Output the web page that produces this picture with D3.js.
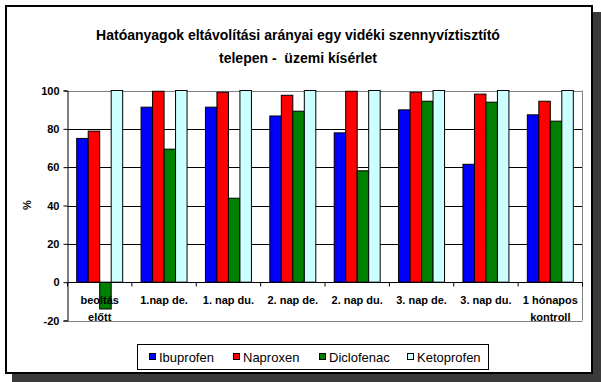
<!DOCTYPE html>
<html>
<head>
<meta charset="utf-8">
<script src="https://cdn.jsdelivr.net/npm/d3@7"></script>
<style>
    body { margin: 0; background: #fff; }
    svg { display: block; font-family: Arial, "Liberation Sans", sans-serif; }
</style>
</head>
<body>
<svg id="chart" width="601" height="382"></svg>
<script>
// categories (multi-line labels) and series
const categories = ['beoltás\nelőtt', '1.nap de.', '1. nap du.', '2. nap de.', '2. nap du.', '3. nap de.', '3. nap du.', '1 hónapos\nkontroll'];
const seriesNames = ['Ibuprofen', 'Naproxen', 'Diclofenac', 'Ketoprofen'];
const seriesColors = ['#0000ff', '#ff0000', '#008000', '#ccffff'];
const ibuprofen = [75, 91.3, 91.3, 86.7, 77.9, 89.9, 61.5, 87.3];
const naproxen = [78.8, 99.6, 99.1, 97.5, 99.6, 99.1, 98.1, 94.4];
const diclofenac = [-14, 69.4, 43.8, 89.2, 58.1, 94.4, 93.9, 84];
const ketoprofen = [100, 100, 100, 100, 100, 100, 100, 100];
const yTicks = [-20, 0, 20, 40, 60, 80, 100];

const values = [ibuprofen, naproxen, diclofenac, ketoprofen];

const svg = d3.select('#chart');

// frame with drop shadow
svg.append('rect')
    .attr('x', 12).attr('y', 12)
    .attr('width', 589).attr('height', 370)
    .attr('fill', '#3a3a3a');
svg.append('rect')
    .attr('x', 6).attr('y', 6)
    .attr('width', 586).attr('height', 367)
    .attr('fill', '#fff')
    .attr('stroke', '#000')
    .attr('stroke-width', 2);

// title
const title = svg.append('text')
    .attr('text-anchor', 'middle')
    .attr('font-size', 14)
    .attr('font-weight', 'bold');
title.append('tspan').attr('x', 298).attr('y', 40)
    .text('Hatóanyagok eltávolítási arányai egy vidéki szennyvíztisztító');
title.append('tspan').attr('x', 298).attr('y', 63)
    .text('telepen -\u00a0 üzemi kísérlet');

const plot = { left: 67.5, right: 582.5, top: 90.5, bottom: 320.5 };

const x = d3.scaleBand()
    .domain(d3.range(categories.length))
    .range([plot.left, plot.right])
    .paddingInner(0)
    .paddingOuter(0);

const bw = x.bandwidth();
const barW = bw / 5.6;
const xs = d3.scaleBand()
    .domain(d3.range(seriesNames.length))
    .range([(bw - 4 * barW) / 2, (bw + 4 * barW) / 2]);

const y = d3.scaleLinear()
    .domain([-20, 100])
    .range([plot.bottom, plot.top]);

// gridlines
svg.append('g')
    .selectAll('line')
    .data(yTicks.filter(d => d !== 0))
    .enter()
    .append('line')
    .attr('x1', plot.left).attr('x2', plot.right)
    .attr('y1', d => Math.round(y(d)) + 0.5)
    .attr('y2', d => Math.round(y(d)) + 0.5)
    .attr('stroke', d => (d === 100 || d === -20) ? '#808080' : '#000')
    .attr('stroke-width', 1);

// plot border (right side)
svg.append('line')
    .attr('x1', plot.right).attr('x2', plot.right)
    .attr('y1', plot.top).attr('y2', plot.bottom)
    .attr('stroke', '#808080');

// bars
const groups = svg.append('g')
    .selectAll('g')
    .data(categories)
    .enter()
    .append('g')
    .attr('transform', (d, i) => `translate(${x(i)},0)`);

groups.selectAll('rect')
    .data((d, i) => values.map((s, j) => ({ s: j, v: s[i] })))
    .enter()
    .append('rect')
    .attr('x', d => xs(d.s))
    .attr('width', xs.bandwidth())
    .attr('y', d => y(Math.max(0, d.v)))
    .attr('height', d => Math.abs(y(d.v) - y(0)))
    .attr('fill', d => seriesColors[d.s])
    .attr('stroke', '#000')
    .attr('stroke-width', 1);

// y axis
const yAxis = svg.append('g')
    .attr('transform', `translate(${plot.left},0)`)
    .call(d3.axisLeft(y).tickValues(yTicks).tickFormat(d => String(d)).tickSize(4).tickPadding(4));
yAxis.select('.domain').attr('stroke', '#000');
yAxis.selectAll('text')
    .attr('font-size', 11)
    .attr('font-weight', 'bold')
    .attr('font-family', 'Arial, "Liberation Sans", sans-serif')
    .attr('fill', '#000');

// x axis along zero
const zeroY = Math.round(y(0)) + 0.5;
svg.append('line')
    .attr('x1', plot.left).attr('x2', plot.right)
    .attr('y1', zeroY).attr('y2', zeroY)
    .attr('stroke', '#000');
svg.append('g')
    .selectAll('line')
    .data(d3.range(categories.length + 1))
    .enter()
    .append('line')
    .attr('x1', d => plot.left + d * bw).attr('x2', d => plot.left + d * bw)
    .attr('y1', zeroY).attr('y2', zeroY + 4)
    .attr('stroke', '#000');

const catLabels = svg.append('g')
    .selectAll('text')
    .data(categories)
    .enter()
    .append('text')
    .attr('text-anchor', 'middle')
    .attr('font-size', 11)
    .attr('font-weight', 'bold')
    .attr('transform', (d, i) => `translate(${x(i) + bw / 2},0)`);
catLabels.selectAll('tspan')
    .data(d => d.split('\n'))
    .enter()
    .append('tspan')
    .attr('x', 0)
    .attr('y', (d, i) => 304 + i * 17)
    .text(d => d);

// y axis title
svg.append('text')
    .attr('transform', 'translate(31,205) rotate(-90)')
    .attr('text-anchor', 'middle')
    .attr('font-size', 11)
    .attr('font-weight', 'bold')
    .text('%');

// legend
const legend = svg.append('g');
legend.append('rect')
    .attr('x', 137.5).attr('y', 344.5)
    .attr('width', 351).attr('height', 25)
    .attr('fill', '#fff')
    .attr('stroke', '#000');
const legendX = [149, 233, 319, 407];
const items = legend.selectAll('g')
    .data(seriesNames)
    .enter()
    .append('g')
    .attr('transform', (d, i) => `translate(${legendX[i]},0)`);
items.append('rect')
    .attr('x', 0.5).attr('y', 353.5)
    .attr('width', 6).attr('height', 6)
    .attr('fill', (d, i) => seriesColors[i])
    .attr('stroke', '#000');
items.append('text')
    .attr('x', 10).attr('y', 361.5)
    .attr('font-size', 13)
    .text(d => d);
</script>
</body>
</html>
